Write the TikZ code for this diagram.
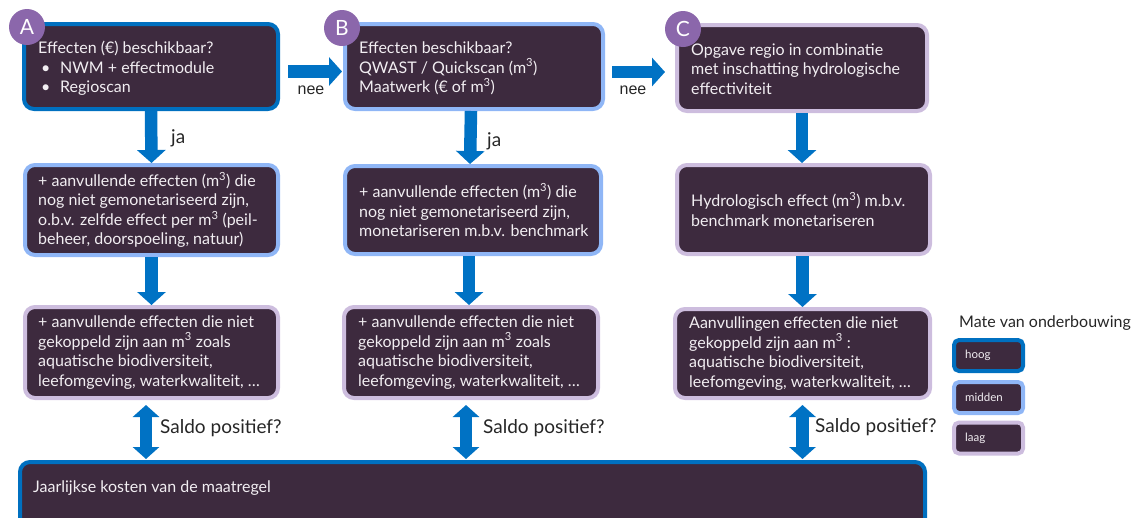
\documentclass[tikz,border=0pt]{standalone}
\usepackage{fontspec}
\setmainfont{Lato}
\newfontfamily\arialfont{Liberation Sans}
\usetikzlibrary{arrows.meta}
\definecolor{boxfill}{RGB}{61,42,62}
\definecolor{hoogc}{RGB}{0,112,192}
\definecolor{middenc}{RGB}{143,182,246}
\definecolor{laagc}{RGB}{205,189,222}
\definecolor{circc}{RGB}{139,103,171}
\definecolor{arrowc}{RGB}{0,114,196}
\definecolor{txtc}{RGB}{242,238,242}
\newcommand{\mkub}{m\textsuperscript{3}}
\begin{document}
\begin{tikzpicture}[x=1pt,y=-1pt,
  box/.style={draw, line width=4pt, fill=boxfill, rounded corners=10pt, inner sep=0pt},
  hoog/.style={box, draw=hoogc},
  midden/.style={box, draw=middenc},
  laag/.style={box, draw=laagc},
  boxtext/.style={anchor=west, text=txtc, align=left, inner sep=0pt, font=\fontsize{16}{19.5}\selectfont},
  badge/.style={circle, fill=circc, minimum size=36pt, inner sep=0pt, text=white, font=\fontsize{21}{21}\selectfont},
  flow/.style={draw=arrowc, line width=12.5pt, -{Triangle[width=28pt,length=13pt]}},
  dbl/.style={draw=arrowc, line width=12.5pt, {Triangle[width=26pt,length=12pt]}-{Triangle[width=26pt,length=12pt]}},
  lab/.style={text=black!85, inner sep=0pt, font=\fontsize{19}{19}\selectfont},
  neelab/.style={text=black!85, inner sep=0pt, font=\arialfont\fontsize{16}{16}\selectfont},
  legbox/.style={box, rounded corners=5pt, minimum width=69pt, minimum height=31pt},
  legtext/.style={anchor=west, text=txtc, inner sep=0pt, font=\fontsize{11.5}{11.5}\selectfont}
]
\useasboundingbox (0,0) rectangle (1131,517);
\clip (0,0) rectangle (1131,517);

% row 1
\node[hoog, minimum width=254pt, minimum height=85pt] (A1) at (151,66.5) {};
\node[midden, minimum width=258pt, minimum height=85pt] (B1) at (474,66.5) {};
\node[laag, minimum width=250pt, minimum height=86pt] (C1) at (802,68) {};
% row 2
\node[midden, minimum width=253pt, minimum height=90pt] (A2) at (151.5,210) {};
\node[midden, minimum width=256pt, minimum height=88pt] (B2) at (473,210) {};
\node[laag, minimum width=253pt, minimum height=89pt] (C2) at (803.5,209.5) {};
% row 3
\node[laag, minimum width=253pt, minimum height=91pt] (A3) at (151.5,352.5) {};
\node[laag, minimum width=254pt, minimum height=91pt] (B3) at (471,352.5) {};
\node[laag, minimum width=255pt, minimum height=89pt] (C3) at (802.5,353.5) {};
% bottom
\node[hoog, minimum width=905pt, minimum height=80pt, anchor=north] (K) at (472.5,460) {};

% texts
\node[boxtext] (A1t) at ([xshift=16pt,yshift=-2pt]A1.west) {Effecten (€) beschikbaar?\\\hspace*{3pt}\makebox[19pt][l]{•}NWM + effectmodule\\\hspace*{3pt}\makebox[19pt][l]{•}Regioscan};
\node[boxtext] (B1t) at ([xshift=16pt,yshift=-2pt]B1.west) {Effecten beschikbaar?\\QWAST / Quickscan (\mkub)\\Maatwerk (€ of \mkub)};
\node[boxtext] (C1t) at ([xshift=16pt,yshift=-1pt]C1.west) {Opgave regio in combinatie\\met inschatting hydrologische\\effectiviteit};
\node[boxtext] (A2t) at ([xshift=15pt]A2.west) {+ aanvullende effecten (\mkub) die\\nog niet gemonetariseerd zijn,\\o.b.v. zelfde effect per \mkub{} (peil-\\beheer, doorspoeling, natuur)};
\node[boxtext] (B2t) at ([xshift=16pt]B2.west) {+ aanvullende effecten (\mkub) die\\nog niet gemonetariseerd zijn,\\monetariseren m.b.v. benchmark};
\node[boxtext] (C2t) at ([xshift=16pt]C2.west) {Hydrologisch effect (\mkub) m.b.v.\\benchmark monetariseren};
\node[boxtext] (A3t) at ([xshift=15pt]A3.west) {+ aanvullende effecten die niet\\gekoppeld zijn aan \mkub{} zoals\\aquatische biodiversiteit,\\leefomgeving, waterkwaliteit, …};
\node[boxtext] (B3t) at ([xshift=16pt]B3.west) {+ aanvullende effecten die niet\\gekoppeld zijn aan \mkub{} zoals\\aquatische biodiversiteit,\\leefomgeving, waterkwaliteit, …};
\node[boxtext] (C3t) at ([xshift=16pt]C3.west) {Aanvullingen effecten die niet\\gekoppeld zijn aan \mkub{} :\\aquatische biodiversiteit,\\leefomgeving, waterkwaliteit, …};
\node[boxtext] (Kt) at (33,488) {Jaarlijkse kosten van de maatregel};

% badges
\node[badge] (cA) at (27,27) {A};
\node[badge] (cB) at (342,28) {B};
\node[badge] (cC) at (683,29) {C};

% vertical arrows
\draw[flow] (A1.south) -- (A2.north);
\draw[flow] ([xshift=-3pt]B1.south) -- ([xshift=-3pt]B2.north);
\draw[flow] (C1.south) -- (C1.south |- C2.north);
\draw[flow] (A2.south) -- (A2.south |- A3.north);
\draw[flow] ([xshift=-4pt]B2.south) -- ([xshift=-4pt]B2.south |- B3.north);
\draw[flow] ([xshift=-1pt]C2.south) -- ([xshift=-1pt]C2.south |- C3.north);

% horizontal arrows
\draw[flow, shorten <=8pt, shorten >=1pt] ([yshift=-5pt]A1.east) -- ([yshift=-5pt]A1.east -| B1.west);
\draw[flow, shorten <=7pt, shorten >=10pt] ([yshift=-5.5pt]B1.east) -- ([yshift=-5.5pt]B1.east -| C1.west);

% double arrows
\draw[dbl, shorten <=5pt, shorten >=1pt] ([xshift=-5.5pt]A3.south) -- ([xshift=-5.5pt]A3.south |- K.north);
\draw[dbl, shorten <=5pt, shorten >=1pt] ([xshift=-5pt]B3.south) -- ([xshift=-5pt]B3.south |- K.north);
\draw[dbl, shorten <=5pt, shorten >=1pt] (C3.south) -- (C3.south |- K.north);

% labels
\node[lab, anchor=west] (ja1) at (171,138) {ja};
\node[lab, anchor=west] (ja2) at (487,141) {ja};
\node[neelab] (nee1) at (311,90) {nee};
\node[neelab] (nee2) at (633,90) {nee};
\node[lab, anchor=west] (s1) at (160,428) {Saldo positief?};
\node[lab, anchor=west] (s2) at (483,428) {Saldo positief?};
\node[lab, anchor=west] (s3) at (815,427) {Saldo positief?};

% legend
\node[anchor=west, inner sep=0pt, text=black!85, font=\fontsize{16}{16}\selectfont] (legt) at (959,323) {Mate van onderbouwing};
\node[legbox, draw=hoogc] (L1) at (988.5,355.5) {};
\node[legbox, draw=middenc] (L2) at (988.5,397.5) {};
\node[legbox, draw=laagc] (L3) at (988.5,438) {};
\node[legtext] (L1t) at ([xshift=13pt]L1.west) {hoog};
\node[legtext] (L2t) at ([xshift=13pt]L2.west) {midden};
\node[legtext] (L3t) at ([xshift=13pt]L3.west) {laag};
\end{tikzpicture}
\end{document}
